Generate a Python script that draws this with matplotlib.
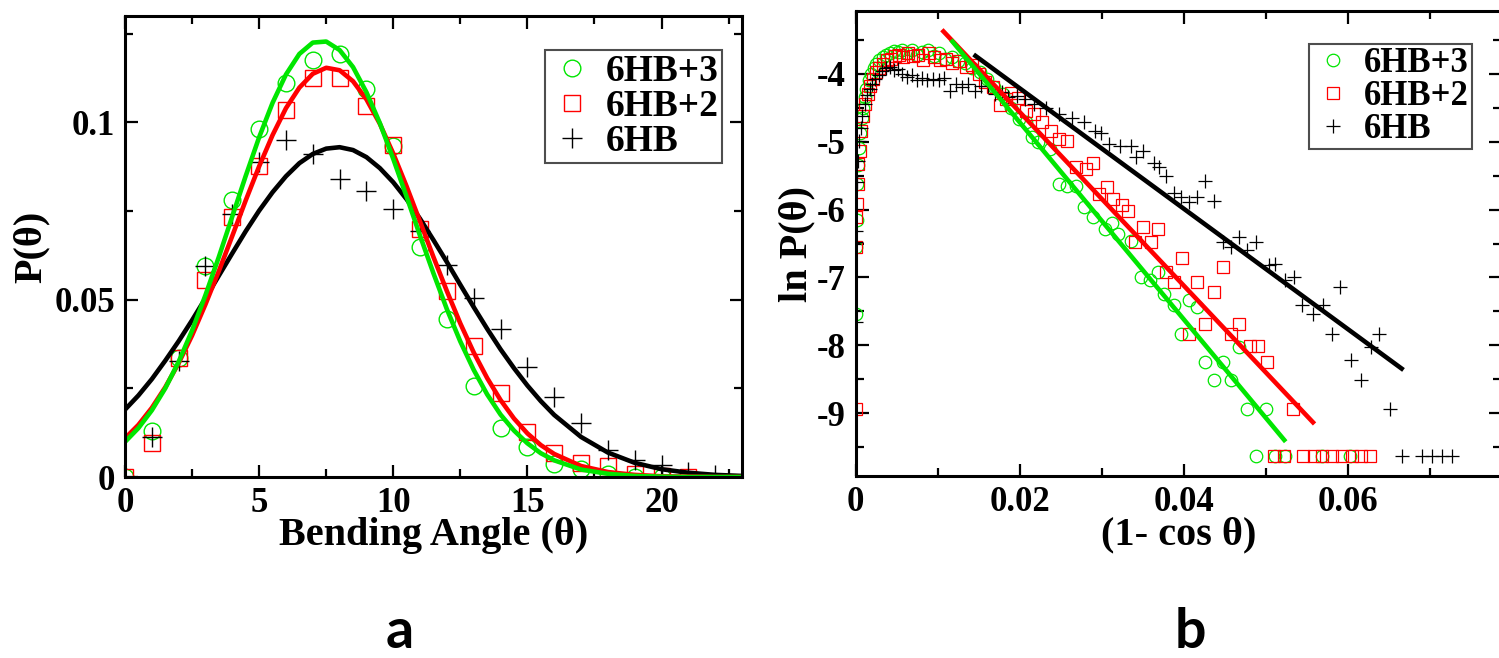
import numpy as np
import matplotlib
matplotlib.use("Agg")
import matplotlib.pyplot as plt
from matplotlib.ticker import MultipleLocator, FuncFormatter

plt.rcParams['font.family'] = ['Liberation Serif', 'DejaVu Serif']
plt.rcParams['font.weight'] = 'bold'
plt.rcParams['axes.labelweight'] = 'bold'
plt.rcParams['axes.unicode_minus'] = False

GREEN = '#00e600'
RED = '#ff0000'
BLACK = '#000000'
labels = ['6HB+3', '6HB+2', '6HB']

# ---- panel a : P(theta) vs bending angle ----
angle_g = list(range(0, 21))
p_g = [0.0, 0.0130, 0.0336, 0.0596, 0.0781, 0.0981, 0.1112, 0.1175, 0.1192, 0.1095, 0.0932,
       0.0650, 0.0445, 0.0258, 0.0137, 0.0085, 0.0038, 0.0022, 0.0008, 0.0, 0.0]
angle_r = list(range(0, 22))
p_r = [0.0, 0.0095, 0.0336, 0.0555, 0.0733, 0.0877, 0.1036, 0.1126, 0.1126, 0.1047, 0.0937,
       0.0700, 0.0525, 0.0369, 0.0237, 0.0126, 0.0069, 0.0040, 0.0030, 0.0008, 0.0002, 0.0]
angle_k = list(range(0, 23))
p_k = [0.0, 0.0114, 0.0326, 0.0596, 0.0743, 0.0889, 0.0951, 0.0911, 0.0839, 0.0807, 0.0757,
       0.0695, 0.0599, 0.0504, 0.0416, 0.0309, 0.0227, 0.0151, 0.0076, 0.0048, 0.0034, 0.0015, 0.0006]

# fitted curves
fit_angle = [0, 0.5, 1, 1.5, 2, 2.5, 3, 3.5, 4, 4.5, 5, 5.5, 6, 6.5, 7, 7.5, 8, 8.5, 9, 9.5, 10,
             10.5, 11, 11.5, 12, 12.5, 13, 13.5, 14, 14.5, 15, 15.5, 16, 17, 18, 19, 20, 21, 22, 23]
fit_g = [0.0099, 0.0138, 0.0188, 0.0250, 0.0325, 0.0413, 0.0513, 0.0621, 0.0735, 0.0849, 0.0958,
         0.1055, 0.1135, 0.1193, 0.1225, 0.1228, 0.1204, 0.1156, 0.1085, 0.0998, 0.0897, 0.0790,
         0.0680, 0.0574, 0.0473, 0.0382, 0.0302, 0.0233, 0.0176, 0.0131, 0.0095, 0.0067, 0.0047,
         0.0021, 0.0009, 0.0003, 0.0001, 0.0, 0.0, 0.0]
fit_r = [0.0109, 0.0147, 0.0195, 0.0253, 0.0321, 0.0399, 0.0487, 0.0581, 0.0680, 0.0780, 0.0876,
         0.0964, 0.1040, 0.1098, 0.1137, 0.1154, 0.1147, 0.1116, 0.1065, 0.0996, 0.0912, 0.0819,
         0.0720, 0.0620, 0.0524, 0.0433, 0.0351, 0.0279, 0.0217, 0.0165, 0.0123, 0.0090, 0.0065,
         0.0031, 0.0014, 0.0006, 0.0002, 0.0001, 0.0, 0.0]
fit_k = [0.0190, 0.0230, 0.0276, 0.0328, 0.0383, 0.0442, 0.0504, 0.0568, 0.0631, 0.0693, 0.0751,
         0.0803, 0.0848, 0.0885, 0.0911, 0.0926, 0.0930, 0.0922, 0.0902, 0.0871, 0.0831, 0.0783,
         0.0728, 0.0668, 0.0606, 0.0542, 0.0479, 0.0418, 0.0360, 0.0307, 0.0258, 0.0214, 0.0175,
         0.0113, 0.0069, 0.0040, 0.0022, 0.0012, 0.0006, 0.0003]

# ---- panel b : ln P(theta) vs (1 - cos theta) ----
cos_g = [0.00002, 0.00006, 0.00012, 0.00020, 0.00030, 0.00042, 0.00056, 0.00072, 0.00090, 0.0011,
         0.0013, 0.0016, 0.0019, 0.0022, 0.0025, 0.0029, 0.0033, 0.0037, 0.0042, 0.0047,
         0.0052, 0.0057, 0.0063, 0.0069, 0.0075, 0.0081, 0.0088, 0.0095, 0.0102, 0.0109,
         0.0117, 0.0125, 0.0133, 0.0142, 0.0151, 0.0160, 0.0169, 0.0179, 0.0189, 0.0199,
         0.0207, 0.0215, 0.0222, 0.0237, 0.0248, 0.0258, 0.0268, 0.0278, 0.0289, 0.0304,
         0.0312, 0.0319, 0.0335, 0.0347, 0.0358, 0.0368, 0.0375, 0.0388, 0.0396, 0.0406,
         0.0416, 0.0426, 0.0437, 0.0447, 0.0457, 0.0467, 0.0477, 0.0488, 0.0500, 0.0511,
         0.0523, 0.0568, 0.0602]
lnp_g = [-7.53, -6.55, -6.16, -5.62, -5.35, -5.10, -4.88, -4.66, -4.50, -4.35,
         -4.22, -4.10, -4.00, -3.92, -3.86, -3.80, -3.76, -3.72, -3.70, -3.67,
         -3.68, -3.66, -3.70, -3.65, -3.72, -3.68, -3.66, -3.74, -3.70, -3.78,
         -3.76, -3.82, -3.85, -3.92, -3.98, -4.08, -4.20, -4.30, -4.50, -4.67,
         -4.72, -4.94, -5.01, -5.11, -5.62, -5.65, -5.65, -5.97, -6.11, -6.28,
         -6.20, -6.36, -6.46, -7.00, -7.04, -6.92, -7.24, -7.41, -7.83, -7.33,
         -7.43, -8.24, -8.51, -8.24, -8.51, -8.02, -8.93, -9.63, -8.93, -9.63,
         -9.63, -9.63, -9.63]

cos_r = [0.00000, 0.00003, 0.00008, 0.00015, 0.00025, 0.00035, 0.00050, 0.00068, 0.00090, 0.0012,
         0.0015, 0.0018, 0.0021, 0.0025, 0.0029, 0.0033, 0.0038, 0.0043, 0.0048, 0.0053,
         0.0058, 0.0064, 0.0070, 0.0076, 0.0082, 0.0089, 0.0096, 0.0103, 0.0110, 0.0118,
         0.0126, 0.0134, 0.0142, 0.0150, 0.0158, 0.0167, 0.0176, 0.0183, 0.0189, 0.0198,
         0.0207, 0.0217, 0.0227, 0.0238, 0.0248, 0.0258, 0.0268, 0.0281, 0.0289, 0.0296,
         0.0306, 0.0314, 0.0324, 0.0332, 0.0340, 0.0350, 0.0360, 0.0368, 0.0378, 0.0388,
         0.0398, 0.0406, 0.0416, 0.0426, 0.0437, 0.0447, 0.0457, 0.0467, 0.0480, 0.0490,
         0.0501, 0.0509, 0.0522, 0.0533, 0.0545, 0.0558, 0.0568, 0.0580, 0.0592, 0.0604,
         0.0616, 0.0627]
lnp_r = [-8.93, -6.55, -6.11, -5.92, -5.62, -5.33, -5.14, -4.84, -4.62, -4.45,
         -4.30, -4.18, -4.08, -3.98, -3.92, -3.86, -3.80, -3.78, -3.74, -3.72,
         -3.76, -3.70, -3.74, -3.72, -3.80, -3.70, -3.76, -3.80, -3.78, -3.84,
         -3.82, -3.90, -3.88, -4.00, -4.13, -4.20, -4.47, -4.38, -4.28, -4.36,
         -4.55, -4.60, -4.72, -4.85, -4.96, -4.99, -5.38, -5.40, -5.31, -5.77,
         -5.67, -5.84, -5.94, -6.02, -6.48, -6.26, -6.48, -6.28, -6.92, -7.07,
         -6.72, -7.83, -7.07, -7.68, -7.21, -6.85, -7.83, -7.68, -8.01, -8.01,
         -8.24, -9.63, -9.63, -8.93, -9.63, -9.63, -9.63, -9.63, -9.63, -9.63,
         -9.63, -9.63]

cos_k = [0.00001, 0.00004, 0.00010, 0.00020, 0.00030, 0.00045, 0.00062, 0.00082, 0.0011, 0.0014,
         0.0017, 0.0020, 0.0024, 0.0028, 0.0032, 0.0037, 0.0042, 0.0047, 0.0052, 0.0057,
         0.0063, 0.0069, 0.0075, 0.0081, 0.0087, 0.0094, 0.0101, 0.0108, 0.0115, 0.0122,
         0.0129, 0.0137, 0.0145, 0.0153, 0.0161, 0.0170, 0.0178, 0.0186, 0.0196, 0.0206,
         0.0217, 0.0232, 0.0248, 0.0263, 0.0278, 0.0291, 0.0299, 0.0309, 0.0322, 0.0335,
         0.0342, 0.0350, 0.0363, 0.0370, 0.0378, 0.0388, 0.0396, 0.0406, 0.0416, 0.0426,
         0.0437, 0.0447, 0.0457, 0.0467, 0.0477, 0.0488, 0.0503, 0.0511, 0.0523, 0.0534,
         0.0544, 0.0557, 0.0569, 0.0580, 0.0590, 0.0603, 0.0615, 0.0628, 0.0638, 0.0651,
         0.0665, 0.0690, 0.0702, 0.0714, 0.0726]
lnp_k = [-7.65, -6.48, -6.31, -5.60, -5.28, -4.99, -4.80, -4.62, -4.45, -4.32,
         -4.22, -4.15, -4.08, -4.02, -3.96, -3.92, -3.90, -3.95, -3.93, -4.00,
         -4.05, -4.02, -4.10, -4.06, -4.10, -4.08, -4.10, -4.07, -4.25, -4.15,
         -4.20, -4.16, -4.25, -4.18, -4.18, -4.30, -4.27, -4.35, -4.33, -4.38,
         -4.45, -4.50, -4.60, -4.65, -4.72, -4.84, -4.88, -5.04, -5.06, -5.06,
         -5.23, -5.14, -5.31, -5.38, -5.50, -5.75, -5.82, -5.89, -5.82, -5.58,
         -5.87, -6.48, -6.55, -6.41, -6.60, -6.48, -6.82, -6.80, -7.04, -6.99,
         -7.41, -7.53, -7.41, -7.83, -7.14, -8.22, -8.51, -8.02, -7.83, -8.93,
         -9.63, -9.63, -9.63, -9.63, -9.63]

# straight-line fits (end points)
line_g_x = [0.0118, 0.0522]
line_g_y = [-3.53, -9.39]
line_r_x = [0.0107, 0.0557]
line_r_y = [-3.38, -9.13]
line_k_x = [0.0146, 0.0665]
line_k_y = [-3.74, -8.34]


def style_axes(ax):
    for s in ax.spines.values():
        s.set_linewidth(2.2)
    ax.tick_params(which='both', direction='in', top=True, right=True, width=1.6)
    ax.tick_params(which='major', length=9, labelsize=25, pad=7)
    ax.tick_params(which='minor', length=6)


def style_legend(leg):
    leg.get_frame().set_edgecolor('#222222')
    leg.get_frame().set_linewidth(1.5)


fmt = FuncFormatter(lambda v, p: "{:g}".format(round(v, 6)))

fig = plt.figure(figsize=(14.99, 6.58), dpi=100)
W, H = 1499.0, 658.0
ax1 = fig.add_axes([125 / W, 1 - 477 / H, 617 / W, 461 / H])
ax2 = fig.add_axes([855.6 / W, 1 - 476 / H, 645.4 / W, 465 / H])

# panel a
ax1.plot(angle_g, p_g, ls='none', marker='o', ms=12, mfc='none', mec=GREEN, mew=1.0, label=labels[0])
ax1.plot(angle_r, p_r, ls='none', marker='s', ms=11, mfc='none', mec=RED, mew=1.0, label=labels[1])
ax1.plot(angle_k, p_k, ls='none', marker='+', ms=14, mec=BLACK, mew=1.0, label=labels[2])
ax1.plot(fit_angle, fit_k, color=BLACK, lw=3.3, solid_capstyle='round')
ax1.plot(fit_angle, fit_r, color=RED, lw=3.3, solid_capstyle='round')
ax1.plot(fit_angle, fit_g, color=GREEN, lw=3.3, solid_capstyle='round')
ax1.set_xlim(0, 23)
ax1.set_ylim(0, 0.13)
ax1.xaxis.set_major_locator(MultipleLocator(5))
ax1.xaxis.set_minor_locator(MultipleLocator(2.5))
ax1.yaxis.set_major_locator(MultipleLocator(0.05))
ax1.yaxis.set_minor_locator(MultipleLocator(0.025))
ax1.xaxis.set_major_formatter(fmt)
ax1.yaxis.set_major_formatter(fmt)
style_axes(ax1)
ax1.set_xlabel('Bending Angle (θ)', fontsize=29, va='center')
ax1.xaxis.set_label_coords(0.5, -0.127)
ax1.set_ylabel('P(θ)', fontsize=29, va='center')
ax1.yaxis.set_label_coords(-0.152, 0.5)
leg1 = ax1.legend(loc='upper right', bbox_to_anchor=(0.9676, 0.926), borderaxespad=0,
                  fontsize=27, frameon=True, fancybox=False, handlelength=1.2,
                  handletextpad=0.3, borderpad=0.1, labelspacing=0.0)
style_legend(leg1)

# panel b
ax2.plot(cos_g, lnp_g, ls='none', marker='o', ms=9, mfc='none', mec=GREEN, mew=0.9, label=labels[0])
ax2.plot(cos_r, lnp_r, ls='none', marker='s', ms=8.5, mfc='none', mec=RED, mew=0.9, label=labels[1])
ax2.plot(cos_k, lnp_k, ls='none', marker='+', ms=10.5, mec=BLACK, mew=0.9, label=labels[2])
ax2.plot(line_k_x, line_k_y, color=BLACK, lw=3.3)
ax2.plot(line_r_x, line_r_y, color=RED, lw=3.3)
ax2.plot(line_g_x, line_g_y, color=GREEN, lw=3.3)
ax2.set_xlim(0, 0.0786)
ax2.set_ylim(-9.92, -3.08)
ax2.xaxis.set_major_locator(MultipleLocator(0.02))
ax2.xaxis.set_minor_locator(MultipleLocator(0.01))
ax2.yaxis.set_major_locator(MultipleLocator(1))
ax2.yaxis.set_minor_locator(MultipleLocator(0.5))
ax2.xaxis.set_major_formatter(fmt)
ax2.yaxis.set_major_formatter(fmt)
style_axes(ax2)
ax2.set_xlabel('(1- cos θ)', fontsize=29, va='center')
ax2.xaxis.set_label_coords(0.5, -0.127)
ax2.set_ylabel('ln P(θ)', fontsize=29, va='center')
ax2.yaxis.set_label_coords(-0.091, 0.5)
leg2 = ax2.legend(loc='upper right', bbox_to_anchor=(0.955, 0.929), borderaxespad=0,
                  fontsize=25, frameon=True, fancybox=False, handlelength=1.2,
                  handletextpad=0.3, borderpad=0.08, labelspacing=0.0)
style_legend(leg2)

# panel letters
fig.text(400 / W, 0.002, 'a', ha='center', va='bottom', fontsize=40,
         family=['Lato', 'DejaVu Sans'], weight='bold')
fig.text(1190 / W, 0.002, 'b', ha='center', va='bottom', fontsize=40,
         family=['Lato', 'DejaVu Sans'], weight='bold')

fig.savefig('out.png', dpi=100)
